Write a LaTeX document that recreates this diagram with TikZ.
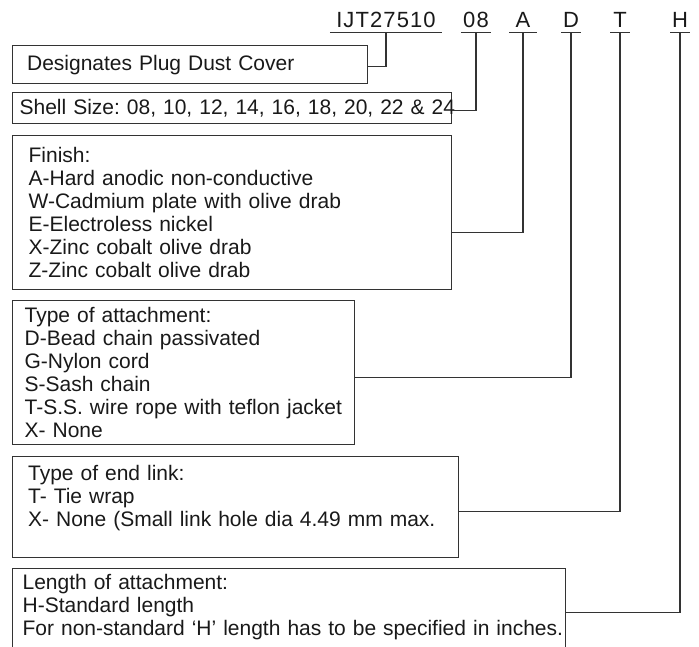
\documentclass[tikz,border=0pt]{standalone}
\usepackage{fontspec}
\setmainfont{Liberation Sans}
\begin{document}
\begin{tikzpicture}[x=1pt,y=-1pt,
  every node/.style={font=\fontsize{21}{23}\selectfont\frenchspacing,text=black!90},
  code/.style={anchor=base,inner xsep=0pt,inner ysep=5pt,text depth=0pt,
    font=\fontsize{22}{23}\selectfont\addfontfeatures{LetterSpace=5}},
  infobox/.style={draw=black!80,line width=1.2pt,anchor=north west,align=left,inner ysep=0pt},
  link/.style={draw=black!80,line width=1.2pt}]
\useasboundingbox (0,0) rectangle (699,646);
% part number codes
\node[code,minimum width=112pt] (ijt) at (386,27) {IJT27510};
\node[code,minimum width=30pt] (size) at (476,27) {08};
\node[code,minimum width=27pt] (fin) at (523,27) {A};
\node[code,minimum width=19pt] (att) at (571,27) {D};
\node[code,minimum width=19pt] (lnk) at (620,27) {T};
\node[code,minimum width=19pt] (len) at (680,27) {H};
\foreach \c in {ijt,size,fin,att,lnk,len}
  \draw[link] (\c.south west) -- (\c.south east);
% description boxes
\node[infobox,inner xsep=14.5pt,text width=326pt,minimum height=38pt] (desig) at (12,45) {Designates Plug Dust Cover};
\node[infobox,inner xsep=7pt,text width=425pt,minimum height=31pt] (shell) at (12,92) {\mbox{Shell Size: 08, 10, 12, 14, 16, 18, 20, 22 \& 24}};
\node[infobox,inner xsep=16pt,text width=407pt,minimum height=154pt] (finish) at (12,135) {Finish:\\A-Hard anodic non-conductive\\W-Cadmium plate with olive drab\\E-Electroless nickel\\X-Zinc cobalt olive drab\\Z-Zinc cobalt olive drab};
\node[infobox,inner xsep=12pt,text width=318pt,minimum height=144pt] (attach) at (12,300) {Type of attachment:\\D-Bead chain passivated\\G-Nylon cord\\S-Sash chain\\T-S.S. wire rope with teflon jacket\\X- None};
\node[infobox,inner xsep=15.5pt,text width=415pt,minimum height=101pt] (endlink) at (12,456) {Type of end link:\\T- Tie wrap\\X- None (Small link hole dia 4.49 mm max.\\\mbox{}};
\node[infobox,inner xsep=10pt,text width=533pt,minimum height=96pt] (length) at (12,568) {Length of attachment:\\H-Standard length\\\mbox{For non-standard `H' length has to be specified in inches.}\\\mbox{}};
% connectors
\draw[link] (ijt.south) |- ([yshift=-2pt]desig.east);
\draw[link] (size.south) |- ([yshift=-2.5pt]shell.east);
\draw[link] (fin.south) |- ([yshift=-20pt]finish.east);
\draw[link] (att.south) |- ([yshift=-5pt]attach.east);
\draw[link] (lnk.south) |- ([yshift=-4.5pt]endlink.east);
\draw[link] (len.south) |- ([yshift=4pt]length.east);
\end{tikzpicture}
\end{document}
